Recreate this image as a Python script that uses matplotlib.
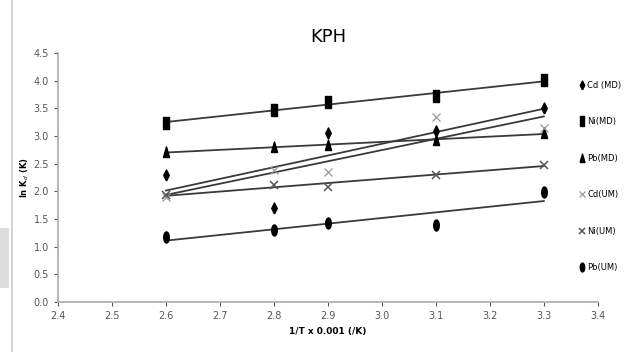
"""
KPH: ln K_d против 1/T для Cd, Ni, Pb (MD и UM) с линейными трендами.
"""
import numpy as np
import matplotlib
matplotlib.use("Agg")
import matplotlib.pyplot as plt
from matplotlib.patches import Rectangle
from matplotlib.lines import Line2D

plt.rcParams["font.family"] = ["Liberation Sans Narrow", "DejaVu Sans"]

# --- данные ---
inv_T = [2.6, 2.8, 2.9, 3.1, 3.3]
cd_md = [2.30, 1.70, 3.06, 3.10, 3.51]
ni_md = [3.24, 3.47, 3.62, 3.72, 4.01]
pb_md = [2.71, 2.80, 2.84, 2.93, 3.05]
cd_um = [1.90, 2.39, 2.35, 3.35, 3.14]
ni_um = [1.93, 2.12, 2.08, 2.30, 2.48]
pb_um = [1.18, 1.30, 1.43, 1.39, 1.99]

labels = ["Cd (MD)", "Ni(MD)", "Pb(MD)", "Cd(UM)", "Ni(UM)", "Pb(UM)"]
series = [cd_md, ni_md, pb_md, cd_um, ni_um, pb_um]

# вытянутые по вертикали маркеры, как в исходнике
tall_rect = [(-0.45, -1), (0.45, -1), (0.45, 1), (-0.45, 1), (-0.45, -1)]
tall_diam = [(0, -1), (0.5, 0), (0, 1), (-0.5, 0), (0, -1)]
tall_tri = [(-0.55, -0.9), (0.55, -0.9), (0, 1), (-0.55, -0.9)]
tall_oval = [(0.5 * np.cos(t), np.sin(t)) for t in np.linspace(0, 2 * np.pi, 25)]
styles = [
    dict(marker=tall_diam, color="black", ms=8),
    dict(marker=tall_rect, color="black", ms=9),
    dict(marker=tall_tri, color="black", ms=8),
    dict(marker="x", color="#9a9a9a", ms=6, mew=0.9),
    dict(marker="x", color="#555555", ms=6, mew=1.1),
    dict(marker=tall_oval, color="black", ms=8),
]

fig = plt.figure(figsize=(6.24, 3.52), dpi=100)
ax = fig.add_axes([0.093, 0.142, 0.865, 0.707])

x = np.array(inv_T)
xfit = np.array([x.min(), x.max()])
for y, st in zip(series, styles):
    k, b = np.polyfit(x, np.array(y), 1)
    ax.plot(xfit, k * xfit + b, color="#3a3a3a", lw=1.3, zorder=2)
for y, st, lab in zip(series, styles, labels):
    ax.plot(x, y, ls="none", label=lab, zorder=3, **st)

ax.set_xlim(2.4, 3.4)
ax.set_ylim(0.0, 4.5)
ax.set_xticks(np.arange(2.4, 3.41, 0.1))
ax.set_yticks(np.arange(0.0, 4.51, 0.5))
ax.xaxis.set_major_formatter(matplotlib.ticker.FormatStrFormatter("%.1f"))
ax.yaxis.set_major_formatter(matplotlib.ticker.FormatStrFormatter("%.1f"))
ax.tick_params(labelsize=7, colors="#555555", length=3, width=0.8)
for s in ("top", "right"):
    ax.spines[s].set_visible(False)
for s in ("left", "bottom"):
    ax.spines[s].set_color("#aaaaaa")
    ax.spines[s].set_linewidth(1.2)

ax.set_title("KPH", fontsize=13, pad=8)
ax.set_xlabel("1/T x 0.001 (/K)", fontsize=6.5, fontweight="bold", labelpad=4)
ax.set_ylabel("ln K$_{d}$ (K)", fontsize=6, fontweight="bold", labelpad=2)

handles = [Line2D([], [], ls="none", **st) for st in styles]
for h in handles:
    h.set_markersize(h.get_markersize() * 0.8)
fig.legend(handles, labels, loc="upper left", bbox_to_anchor=(0.925, 0.78),
           frameon=False, fontsize=6, handlelength=0.4, handletextpad=0.4,
           labelspacing=3.3, borderaxespad=0)

# артефакты скриншота слева
fig.add_artist(Line2D([12 / 624, 12 / 624], [0, 1], color="#cccccc", lw=1.2))
fig.add_artist(Rectangle((0, 1 - 288 / 352), 9 / 624, 60 / 352, color="#dddddd", lw=0))

fig.savefig("out.png", dpi=100)
